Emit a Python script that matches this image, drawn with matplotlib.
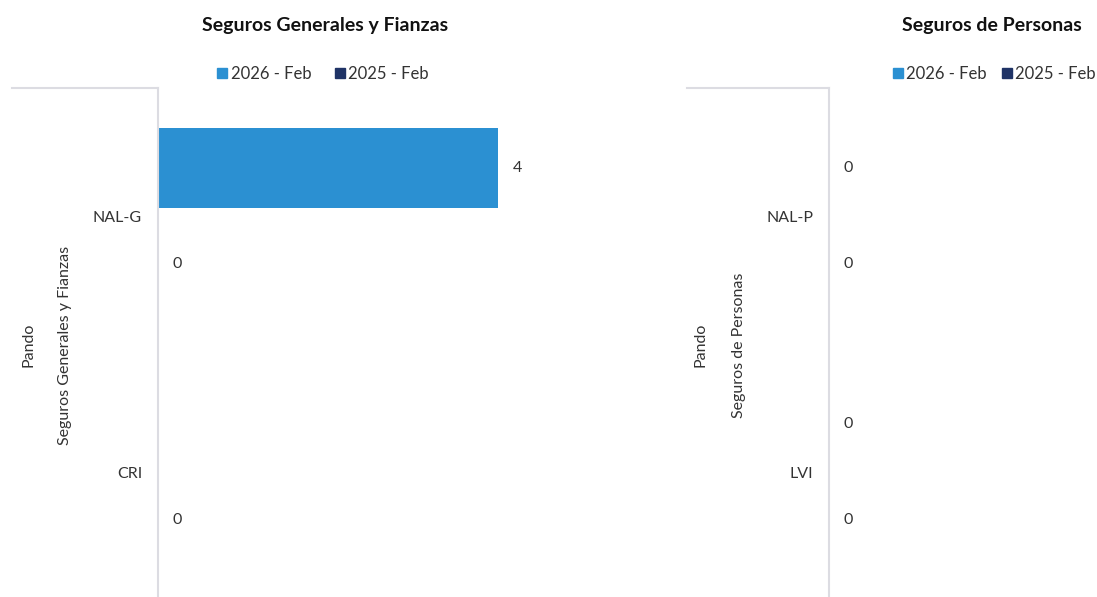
import numpy as np
import matplotlib.pyplot as plt
from matplotlib.patches import Patch
from matplotlib.lines import Line2D

plt.rcParams['font.family'] = ['Lato', 'DejaVu Sans']

series = ["2026 - Feb", "2025 - Feb"]
colors = ["#2b90d2", "#1f3366"]

gen_title = "Seguros Generales y Fianzas"
gen_cats = ["NAL-G", "CRI"]
gen_2026 = [4, np.nan]
gen_2025 = [0, 0]

per_title = "Seguros de Personas"
per_cats = ["NAL-P", "LVI"]
per_2026 = [0, 0]
per_2025 = [0, 0]

W, H = 1097, 597
fig = plt.figure(figsize=(W / 100, H / 100), dpi=100)
txt = '#333333'


def px_axes(x0, y0, x1, y1):
    # pixel box (top-left origin) -> figure fraction axes
    return fig.add_axes([x0 / W, 1 - y1 / H, (x1 - x0) / W, (y1 - y0) / H])


def draw_panel(ax, cats, v26, v25, xmax, title, group, title_x, legend_x, colsp, ylab_x, grp_x, topline_x0, axis_x):
    pos = np.arange(len(cats))
    off = 0.1875
    h = 0.3125
    for vals, d, c in [(v26, -off, colors[0]), (v25, off, colors[1])]:
        vals = np.array(vals, dtype=float)
        ax.barh(pos + d, np.nan_to_num(vals), height=h, color=c)
        for p, v in zip(pos, vals):
            if not np.isnan(v):
                ax.annotate(f"{v:.0f}", (v, p + d), xytext=(10.5, 0), textcoords='offset points',
                            ha='left', va='center', fontsize=11.5, color=txt)
    ax.set_xlim(0, xmax)
    ax.set_ylim(1.488, -0.5)
    ax.set_yticks(pos)
    ax.set_yticklabels(cats, fontsize=11.5, color=txt)
    ax.tick_params(axis='y', length=0, pad=11.5)
    ax.set_xticks([])
    for s in ['top', 'right', 'bottom']:
        ax.spines[s].set_visible(False)
    ax.spines['left'].set_color('#dcdce2')
    ax.spines['left'].set_linewidth(1.5)
    fig.text(title_x / W, 1 - 25 / H, title, ha='center', va='center', fontsize=14, fontweight='bold',
             color='#111111')
    handles = [Patch(color=colors[0], label=series[0]), Patch(color=colors[1], label=series[1])]
    fig.legend(handles=handles, loc='center', bbox_to_anchor=(legend_x / W, 1 - 74 / H), ncol=2, frameon=False,
               fontsize=12, handlelength=0.6, handleheight=0.6, handletextpad=0.2, columnspacing=colsp,
               labelcolor=txt, borderpad=0)
    fig.text(ylab_x / W, 1 - 345 / H, "Pando", rotation=90, ha='center', va='center', fontsize=11.5, color=txt)
    fig.text(grp_x / W, 1 - 345 / H, group, rotation=90, ha='center', va='center', fontsize=11.5, color=txt)
    fig.add_artist(Line2D([topline_x0 / W, axis_x / W], [1 - 88 / H, 1 - 88 / H], color='#dcdce2', lw=1.5))


ax1 = px_axes(158, 88, 670, 597)
draw_panel(ax1, gen_cats, gen_2026, gen_2025, 6.02, gen_title, gen_title, 325, 323, 1.4, 28, 65, 12, 158)

ax2 = px_axes(829, 88, 1097, 597)
draw_panel(ax2, per_cats, per_2026, per_2025, 1, per_title, per_title, 992, 994, 0.9, 700, 739, 687, 829)

fig.savefig("out.png", dpi=100)
